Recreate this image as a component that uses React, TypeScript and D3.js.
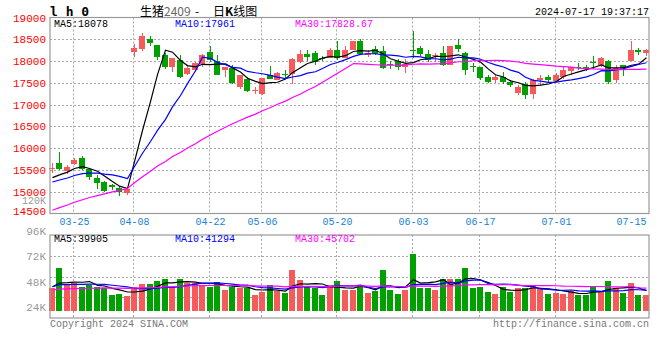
import React, { useRef, useEffect } from "react";
import * as d3 from "d3";

// trading days shown (MM-DD, 2024)
const dates = [
  "03-20", "03-21", "03-22", "03-25", "03-26", "03-27", "03-28", "03-29",
  "04-01", "04-02", "04-03", "04-08", "04-09", "04-10", "04-11", "04-12", "04-15", "04-16", "04-17", "04-18",
  "04-19", "04-22", "04-23", "04-24", "04-25", "04-26", "04-29", "04-30",
  "05-06", "05-07", "05-08", "05-09", "05-10", "05-13", "05-14", "05-15", "05-16", "05-17", "05-20", "05-21",
  "05-22", "05-23", "05-24", "05-27", "05-28", "05-29", "05-30", "05-31",
  "06-03", "06-04", "06-05", "06-06", "06-07", "06-11", "06-12", "06-13", "06-14", "06-17", "06-18", "06-19",
  "06-20", "06-21", "06-24", "06-25", "06-26", "06-27", "06-28",
  "07-01", "07-02", "07-03", "07-04", "07-05", "07-08", "07-09", "07-10", "07-11", "07-12", "07-15", "07-16", "07-17",
];

const opens = [
  15540, 15660, 15475, 15630, 15770, 15530, 15315, 15215, 15145, 15085,
  14970, 18205, 18280, 18495, 18380, 18130, 17860, 18015, 17710, 17785,
  17940, 18205, 18000, 17785, 17845, 17400, 17595, 17320, 17250, 17690,
  17570, 17700, 17710, 17975, 18165, 18190, 18075, 18075, 18245, 18075,
  18265, 18455, 18130, 18280, 18225, 17930, 17990, 17860, 18265, 18295,
  18165, 18140, 18190, 17915, 18380, 18190, 17890, 17875, 17630, 17570,
  17645, 17530, 17265, 17480, 17250, 17570, 17630, 17540, 17630, 17770,
  17860, 17860, 17975, 17900, 17990, 17555, 17900, 17990, 18245, 18190,
];
const highs = [
  15650, 15910, 15620, 15780, 15810, 15545, 15375, 15240, 15185, 15125,
  15070, 18395, 18650, 18585, 18380, 18190, 18065, 18130, 17900, 17975,
  18165, 18340, 18130, 17860, 17900, 17670, 17630, 17415, 17610, 17885,
  17745, 17800, 18075, 18265, 18245, 18220, 18115, 18295, 18450, 18340,
  18455, 18495, 18245, 18340, 18340, 17990, 18055, 18055, 18680, 18340,
  18245, 18190, 18340, 18335, 18495, 18205, 17950, 17875, 17685, 17670,
  17760, 17555, 17440, 17515, 17595, 17670, 17685, 17720, 17860, 17875,
  17950, 17915, 18105, 18090, 18030, 17900, 17915, 18450, 18305, 18285,
];
const lows = [
  15440, 15490, 15415, 15605, 15490, 15260, 15070, 14990, 15030, 14895,
  14915, 18090, 18220, 18340, 18035, 17825, 17745, 17610, 17670, 17745,
  17860, 17975, 17670, 17630, 17480, 17350, 17285, 17250, 17210, 17595,
  17555, 17580, 17480, 17960, 17990, 17915, 17990, 18075, 18015, 18075,
  18265, 18140, 18090, 18130, 17825, 17825, 17785, 17730, 18075, 18110,
  17975, 17975, 17885, 17915, 18205, 17685, 17760, 17570, 17500, 17500,
  17480, 17400, 17210, 17135, 17135, 17440, 17515, 17515, 17595, 17670,
  17800, 17770, 17825, 17860, 17480, 17500, 17655, 17990, 18150, 18110,
];
const closes = [
  15550, 15515, 15565, 15720, 15530, 15335, 15200, 15010, 15105, 14990,
  15055, 18295, 18585, 18420, 18090, 17860, 18065, 17630, 17835, 17950,
  18150, 18015, 17690, 17860, 17500, 17670, 17310, 17330, 17610, 17595,
  17720, 17690, 18055, 18165, 18090, 17975, 18055, 18245, 18075, 18265,
  18455, 18165, 18190, 18165, 17835, 17915, 17875, 17940, 18255, 18165,
  18035, 18150, 17920, 18335, 18280, 17785, 17880, 17610, 17515, 17630,
  17530, 17440, 17400, 17210, 17570, 17610, 17575, 17690, 17785, 17860,
  17845, 17830, 17945, 18080, 17520, 17840, 17830, 18250, 18210, 18260,
];
const volumes = [
  45500, 65000, 48600, 50200, 47000, 48600, 47000, 45500, 39200, 40100,
  38200, 47000, 49600, 49600, 52400, 54300, 47000, 54300, 50800, 50800,
  48600, 47000, 51500, 43900, 47000, 45500, 45500, 39200, 42300, 48600,
  42900, 41400, 62800, 53400, 47000, 45500, 39200, 48600, 52400, 43900,
  43900, 48600, 41400, 42900, 62800, 43900, 40100, 43900, 78000, 46100,
  46100, 43900, 54300, 54300, 54300, 65000, 46100, 47000, 42300, 40100,
  47000, 42300, 46100, 46100, 48600, 44500, 40100, 41400, 40100, 42900,
  39200, 39200, 47700, 42900, 52400, 45500, 41400, 50800, 39200, 39200,
];

// sessions before the window, only feeding the moving averages
const priorCloses = [
  13700, 13750, 13800, 13780, 13820, 13850, 13800, 13830, 13860, 13810,
  14400, 14450, 14500, 14600, 14650, 14700, 14800, 14850, 14950, 15070,
  15050, 15100, 15150, 15120, 15185, 15200, 15250, 15300, 15322,
];
const priorVolumes = [
  40000, 43000, 41500, 44000, 42000, 40500, 43500, 42500, 41000, 44500,
  42000, 43000, 41500, 42500, 43500, 41000, 42000, 44000, 42500, 43000,
  46000, 48000, 47500, 46500, 47000, 48000, 46500, 47500, 47500,
];

const priceTicks = [19000, 18500, 18000, 17500, 17000, 16500, 16000, 15500, 15000, 14500];
const volTicks = [96000, 72000, 48000, 24000];
const dateTicks = ["03-25", "04-08", "04-22", "05-06", "05-20", "06-03", "06-17", "07-01", "07-15"];

const priceLegend = ["MA5:18078", "MA10:17961", "MA30:17828.67"];
const volLegend = ["MA5:39905", "MA10:41294", "MA30:45702"];
const maPeriods = [5, 10, 30];
const maColors = ["#000000", "#0000ff", "#ff00ff"];

const UP = "#f55b5b";
const DOWN = "#00a000";
const MONO = "'Liberation Mono', 'DejaVu Sans Mono', monospace";

function movingAvg(values, prior, n) {
  const all = prior.concat(values);
  const off = prior.length;
  return values.map((_, i) => d3.mean(all.slice(off + i - n + 1, off + i + 1)));
}

export default function App() {
  const ref = useRef(null);
  useEffect(() => {
    const svg = d3.select(ref.current);
    svg.selectAll("*").remove();

    const left = 50, right = 649;
    const top = 17.5, bottom = 213.5;
    const vTop = 235, vBottom = 318, vBase = 311;

    const x = d3.scaleBand().domain(dates).range([48, 649.5]);
    const px = (d) => Math.round(x(d) + x.bandwidth() / 2);
    const cx = (d) => px(d) + 0.5;
    const y = d3.scaleLinear().domain([14500, 19000]).range([bottom, top]);
    const yv = d3.scaleLinear().domain([24000, 96000]).range([vBase, vTop]);

    const grid = svg.append("g").attr("stroke", "#aaa").attr("stroke-dasharray", "2,2").attr("stroke-width", 1);
    // horizontal price grid
    grid.selectAll("line.h")
      .data(priceTicks.slice(1, -1))
      .enter().append("line")
      .attr("x1", left).attr("x2", right)
      .attr("y1", d => Math.round(y(d)) + 0.5).attr("y2", d => Math.round(y(d)) + 0.5);
    // volume panel quarter lines
    grid.selectAll("line.vh")
      .data([1, 2, 3])
      .enter().append("line")
      .attr("x1", left).attr("x2", right)
      .attr("y1", k => Math.round(vTop + (k * (vBottom - vTop)) / 4) + 0.5)
      .attr("y2", k => Math.round(vTop + (k * (vBottom - vTop)) / 4) + 0.5);
    // vertical date grid (the last tick sits too close to the edge)
    const gridTicks = dateTicks.filter(d => right - cx(d) > 20);
    for (const [y0, y1] of [[top, bottom], [vTop, vBottom]]) {
      grid.selectAll(null)
        .data(gridTicks)
        .enter().append("line")
        .attr("x1", d => cx(d) - 1).attr("x2", d => cx(d) - 1)
        .attr("y1", y0).attr("y2", y1);
    }

    // candles
    const idx = d3.range(dates.length);
    const col = i => (closes[i] >= opens[i] ? UP : DOWN);
    const candles = svg.append("g").attr("shape-rendering", "crispEdges");
    candles.selectAll("line")
      .data(idx)
      .enter().append("line")
      .attr("x1", i => cx(dates[i])).attr("x2", i => cx(dates[i]))
      .attr("y1", i => y(highs[i])).attr("y2", i => y(lows[i]))
      .attr("stroke", col).attr("stroke-width", 1);
    candles.selectAll("rect")
      .data(idx)
      .enter().append("rect")
      .attr("x", i => px(dates[i]) - 3)
      .attr("width", 6)
      .attr("y", i => y(Math.max(opens[i], closes[i])))
      .attr("height", i => Math.max(1, Math.abs(y(opens[i]) - y(closes[i]))))
      .attr("fill", col);

    // volume bars
    svg.append("g").attr("shape-rendering", "crispEdges").selectAll("rect")
      .data(idx)
      .enter().append("rect")
      .attr("x", i => px(dates[i]) - 3)
      .attr("width", 6)
      .attr("y", i => yv(volumes[i]))
      .attr("height", i => vBase - yv(volumes[i]))
      .attr("fill", col);

    // moving averages
    const priceLine = d3.line().x((_, i) => cx(dates[i])).y(d => y(d));
    const volLine = d3.line().x((_, i) => cx(dates[i])).y(d => yv(d));
    maPeriods.forEach((n, k) => {
      svg.append("path")
        .attr("d", priceLine(movingAvg(closes, priorCloses, n)))
        .attr("fill", "none").attr("stroke", maColors[k]).attr("stroke-width", 1.2);
      svg.append("path")
        .attr("d", volLine(movingAvg(volumes, priorVolumes, n)))
        .attr("fill", "none").attr("stroke", maColors[k]).attr("stroke-width", 1.2);
    });

    // panel frames
    svg.append("rect").attr("x", left).attr("y", top).attr("width", right - left).attr("height", bottom - top)
      .attr("fill", "none").attr("stroke", "#999").attr("stroke-width", 1.2);
    svg.append("rect").attr("x", left).attr("y", vTop).attr("width", right - left).attr("height", vBottom - vTop)
      .attr("fill", "none").attr("stroke", "#999").attr("stroke-width", 1.2);

    const txt = svg.append("g").attr("font-family", MONO);
    // price axis labels
    txt.selectAll("text.p")
      .data(priceTicks)
      .enter().append("text")
      .attr("x", 46).attr("y", d => Math.min(y(d), bottom - 2.5) + 4)
      .attr("text-anchor", "end").attr("font-size", 11).attr("fill", "#ff0000")
      .text(d => d);
    txt.append("text").attr("x", 46).attr("y", 204).attr("text-anchor", "end")
      .attr("font-size", 10).attr("fill", "#999").text("120K");
    // volume axis labels
    txt.selectAll("text.v")
      .data(volTicks)
      .enter().append("text")
      .attr("x", 46).attr("y", d => Math.max(yv(d) - 4, 227) + 4)
      .attr("text-anchor", "end").attr("font-size", 11).attr("fill", "#999")
      .text(d => d / 1000 + "K");
    // date labels
    txt.selectAll("text.d")
      .data(dateTicks)
      .enter().append("text")
      .attr("x", d => Math.min(cx(d), right - 15)).attr("y", 225)
      .attr("text-anchor", "middle").attr("font-size", 10).attr("fill", "#1a7fd0")
      .text(d => d);
    // legends
    const legendX = [54, 175, 295];
    priceLegend.forEach((s, k) => {
      txt.append("text").attr("x", legendX[k]).attr("y", 26.5).attr("font-size", 10)
        .attr("fill", maColors[k]).text(s);
    });
    volLegend.forEach((s, k) => {
      txt.append("text").attr("x", legendX[k]).attr("y", 241.5).attr("font-size", 10)
        .attr("fill", maColors[k]).text(s);
    });

    // header
    txt.append("text").attr("x", 50).attr("y", 16).attr("font-size", 13).attr("font-weight", "bold")
      .attr("font-family", "'DejaVu Sans Mono', monospace").text("l h 0");
    const title = svg.append("text").attr("y", 16)
      .attr("font-family", "'Noto Sans CJK SC', sans-serif").attr("font-size", 12).attr("fill", "#000");
    title.append("tspan").attr("x", 140).text("生猪");
    title.append("tspan").attr("x", 164).attr("fill", "#666").text("2409");
    title.append("tspan").attr("x", 195).text("-");
    title.append("tspan").attr("x", 213).text("日");
    title.append("tspan").attr("font-weight", "bold").text("K");
    title.append("tspan").text("线图");
    txt.append("text").attr("x", 649).attr("y", 15).attr("text-anchor", "end").attr("font-size", 10)
      .attr("fill", "#000").text("2024-07-17 19:37:17");

    // footer
    txt.append("text").attr("x", 50).attr("y", 327).attr("font-size", 10).attr("fill", "#777")
      .text("Copyright 2024 SINA.COM");
    txt.append("text").attr("x", 649).attr("y", 327).attr("text-anchor", "end").attr("font-size", 10)
      .attr("fill", "#777").text("http://finance.sina.com.cn");
  }, []);
  return (
    <svg ref={ref} width={660} height={360}
      style={{ position: "absolute", left: 0, top: 0, background: "#fff" }} />
  );
}
